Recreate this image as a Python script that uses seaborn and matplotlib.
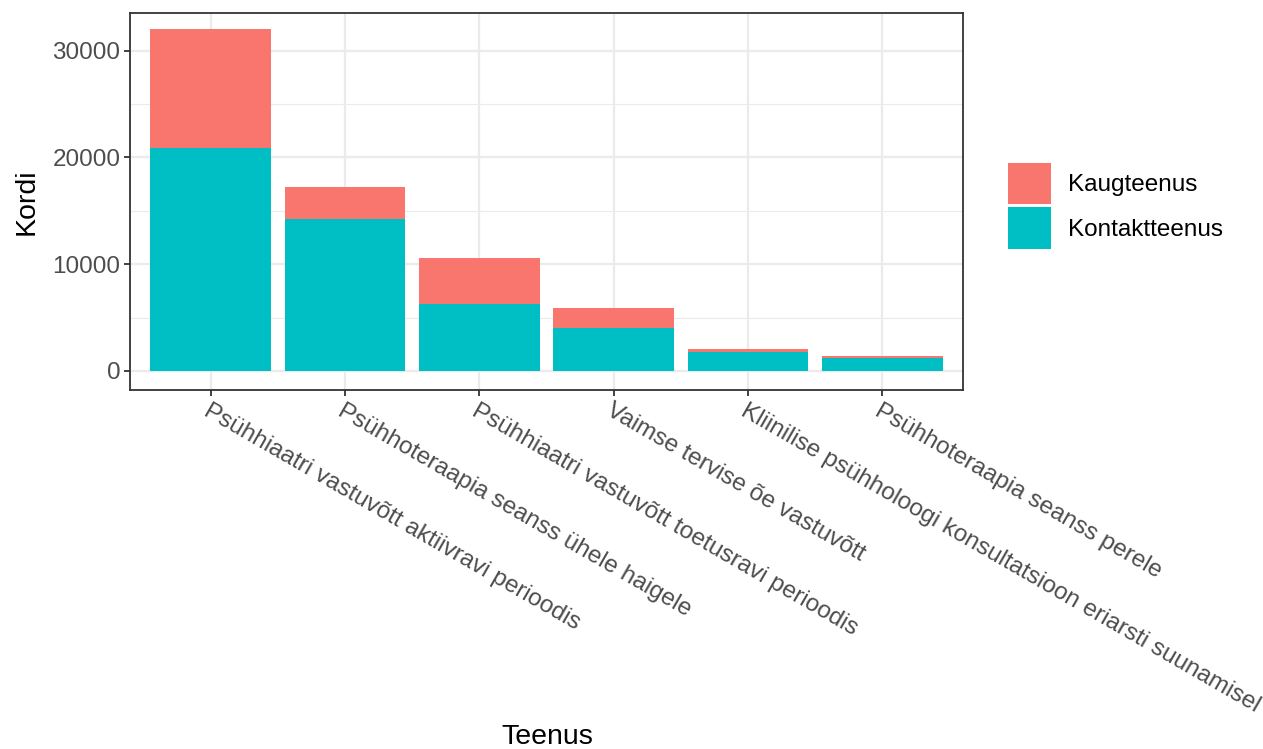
import matplotlib
matplotlib.use("Agg")
import matplotlib.pyplot as plt
from matplotlib.patches import Patch
from matplotlib.ticker import MultipleLocator
import pandas as pd
import seaborn as sns

teenus = [
    "Psühhiaatri vastuvõtt aktiivravi perioodis",
    "Psühhoteraapia seanss ühele haigele",
    "Psühhiaatri vastuvõtt toetusravi perioodis",
    "Vaimse tervise õe vastuvõtt",
    "Kliinilise psühholoogi konsultatsioon eriarsti suunamisel",
    "Psühhoteraapia seanss perele",
]
kontakt = [20910, 14230, 6300, 4030, 1800, 1250]
kaug = [11110, 3000, 4280, 1840, 250, 190]

df = pd.DataFrame({"Teenus": teenus, "Kontaktteenus": kontakt, "Kaugteenus": kaug})
df["Kokku"] = df["Kontaktteenus"] + df["Kaugteenus"]

punane = "#F8766D"
sinine = "#00BFC4"

sns.set_theme(style="white")
plt.rcParams["font.family"] = ["Liberation Sans", "DejaVu Sans"]
plt.rcParams["text.color"] = "black"
plt.rcParams["axes.labelcolor"] = "black"

fig = plt.figure(figsize=(12.63, 7.49), dpi=100)
ax = fig.add_axes([130 / 1263, 1 - 390 / 749, (963 - 130) / 1263, (390 - 13) / 749])

# virnastatud tulbad: kogusumma all punasena, kontakt peal
sns.barplot(data=df, x="Teenus", y="Kokku", color=punane, saturation=1, width=0.9,
            linewidth=0, ax=ax, zorder=3)
sns.barplot(data=df, x="Teenus", y="Kontaktteenus", color=sinine, saturation=1, width=0.9,
            linewidth=0, ax=ax, zorder=3)

ax.set_xlim(-0.6, 5.6)
ax.set_ylim(-1780, 33520)
ax.yaxis.set_major_locator(MultipleLocator(10000))
ax.yaxis.set_minor_locator(MultipleLocator(5000))
ax.grid(True, which="major", color="#EBEBEB", linewidth=1.6, zorder=0)
ax.grid(True, which="minor", axis="y", color="#EBEBEB", linewidth=0.8, zorder=0)
ax.set_axisbelow(True)
for s in ax.spines.values():
    s.set_color("#333333")
    s.set_linewidth(1.3)

ax.tick_params(axis="both", which="major", length=4, width=1.3, color="#333333",
               labelsize=17.5, labelcolor="#4D4D4D", bottom=True, left=True, pad=3)
ax.tick_params(axis="y", which="minor", length=0)
ax.set_xticks(range(len(teenus)))
ax.set_xticklabels(teenus, rotation=-30, ha="left", va="top", rotation_mode="anchor")

ax.set_xlabel("Teenus", fontsize=20.5)
ax.set_ylabel("Kordi", fontsize=20.5)
ax.xaxis.set_label_coords((547 - 130) / (963 - 130), -(724 - 390) / (390 - 13))
ax.yaxis.set_label_coords(-(130 - 40) / (963 - 130), 0.5)

handles = [Patch(facecolor=punane, edgecolor="none", label="Kaugteenus"),
           Patch(facecolor=sinine, edgecolor="none", label="Kontaktteenus")]
fig.legend(handles=handles, loc="upper left", bbox_to_anchor=(1008 / 1263, 1 - 163 / 749),
           frameon=False, fontsize=17.5, handlelength=1.77, handleheight=2.24,
           labelspacing=0.12, handletextpad=0.7, borderaxespad=0, borderpad=0)

fig.savefig("out.png", dpi=100)
